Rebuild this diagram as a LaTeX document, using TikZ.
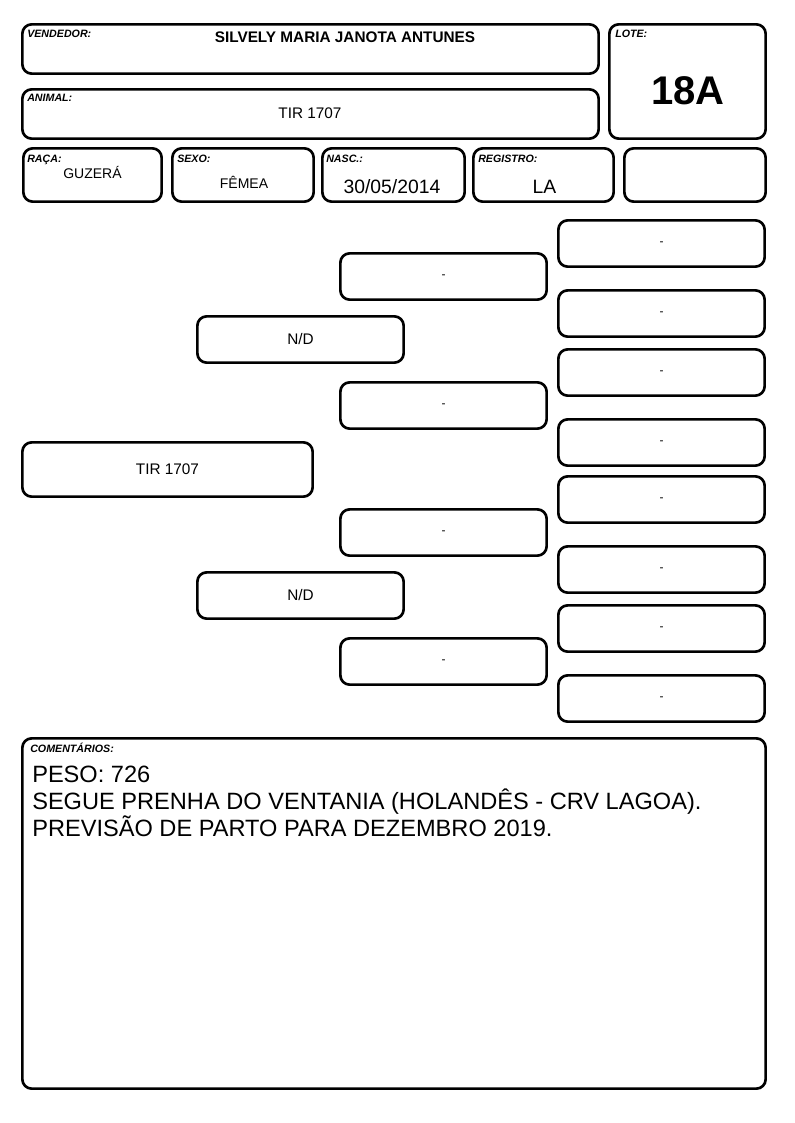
\documentclass[tikz,border=0pt]{standalone}
\usepackage{fontspec}
\setmainfont{Liberation Sans}
\usepackage{tikz}
\usetikzlibrary{positioning}
\tikzset{
  cell/.style={draw, line width=2pt, rounded corners=7pt, inner sep=0pt,
    font=\fontsize{11.5}{13}\selectfont},
  lbl/.style={anchor=base west, inner sep=0pt,
    font=\fontsize{8}{9}\selectfont\bfseries\itshape},
  val/.style={anchor=base, inner sep=0pt, font=\fontsize{10.5}{12}\selectfont},
  note/.style={anchor=base west, inner sep=0pt, font=\fontsize{17.7}{20}\selectfont}
}
\newcommand\dashtxt{\fontsize{9}{10}\selectfont}
\newcommand\formbox[6]{%
  \node[cell, minimum width={(#3-#1-2.7)*0.75pt}, minimum height={(#4-#2-2.7)*0.75pt}]
    (#5) at ({(#1+#3)/2}, {(#2+#4)/2}) {#6}
}
\newcommand\pedbox[4]{%
  \formbox{#1}{#2}{#1+209}{#2+49}{#3}{#4}
}

\begin{document}
\begin{tikzpicture}[x=0.75pt, y=-0.75pt]
        \useasboundingbox (0,0) rectangle (794,1123);
        % The header
        \formbox{21}{23}{600}{75}{vend}{};
        \formbox{21}{88}{600}{140}{anim}{};
        \formbox{608}{23}{767}{140}{lote}{};
        \formbox{22}{147}{163}{203}{raca}{};
        \formbox{171}{147}{315}{203}{sexo}{};
        \formbox{321}{147}{466}{203}{nasc}{};
        \formbox{472}{147}{615}{203}{regi}{};
        \formbox{623}{147}{767}{203}{extra}{};
        \node[lbl] (vendlbl) at (27,38) {VENDEDOR:};
        \node[val, font=\fontsize{11.5}{13}\selectfont\bfseries] (vendval) at (345,43) {SILVELY MARIA JANOTA ANTUNES};
        \node[lbl] (animlbl) at (27,101.5) {ANIMAL:};
        \node[val, font=\fontsize{11.5}{13}\selectfont] (animval) at (310,119) {TIR 1707};
        \node[lbl] (lotelbl) at (615,38) {LOTE:};
        \node[val, font=\fontsize{30}{32}\selectfont\bfseries] (loteval) at (688,105) {18A};
        \node[lbl] (racalbl) at (27,162.5) {RAÇA:};
        \node[val] (racaval) at (92.5,178.3) {GUZERÁ};
        \node[lbl] (sexolbl) at (177,162.5) {SEXO:};
        \node[val] (sexoval) at (244,189) {FÊMEA};
        \node[lbl] (nasclbl) at (326,162.5) {NASC.:};
        \node[val, font=\fontsize{14.5}{16}\selectfont] (nascval) at (392,193.3) {30/05/2014};
        \node[lbl] (regilbl) at (478,162.5) {REGISTRO:};
        \node[val, font=\fontsize{14.5}{16}\selectfont] (regival) at (544.5,193.3) {LA};

        % The pedigree
        \formbox{21}{441}{314}{498}{self}{TIR 1707};
        \pedbox{196}{315}{sire}{N/D};
        \pedbox{196}{571}{dam}{N/D};
        \pedbox{339}{252}{ss}{\dashtxt -};
        \pedbox{339}{381}{sd}{\dashtxt -};
        \pedbox{339}{508}{ds}{\dashtxt -};
        \pedbox{339}{637}{dd}{\dashtxt -};
        \pedbox{557}{219}{sss}{\dashtxt -};
        \pedbox{557}{289}{ssd}{\dashtxt -};
        \pedbox{557}{348}{sds}{\dashtxt -};
        \pedbox{557}{418}{sdd}{\dashtxt -};
        \pedbox{557}{475}{dss}{\dashtxt -};
        \pedbox{557}{545}{dsd}{\dashtxt -};
        \pedbox{557}{604}{dds}{\dashtxt -};
        \pedbox{557}{674}{ddd}{\dashtxt -};

        % Comments
        \formbox{21}{737}{767}{1090}{coment}{};
        \node[lbl] (comentlbl) at (30,752.5) {COMENTÁRIOS:};
        \node[note] (peso) at (32,782.7) {PESO: 726};
        \node[note] (prenha) at (32,809.3) {SEGUE PRENHA DO VENTANIA (HOLANDÊS - CRV LAGOA).};
        \node[note] (parto) at (32,836) {PREVISÃO DE PARTO PARA DEZEMBRO 2019.};
\end{tikzpicture}
\end{document}
